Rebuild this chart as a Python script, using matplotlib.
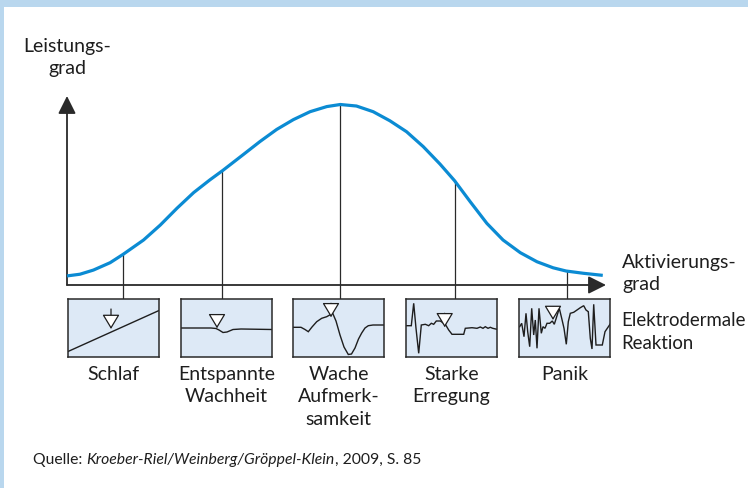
import numpy as np
import matplotlib
matplotlib.use("Agg")
import matplotlib.pyplot as plt
from matplotlib.patches import Rectangle

plt.rcParams["font.family"] = ["Lato", "DejaVu Sans"]

# Leistungskurve (Aktivierung 0..100, Leistung 0..100)
activation = [0, 2.4, 4.9, 8.0, 10.4, 14.2, 17.3, 20.4, 23.5, 26.5, 28.9, 32.7, 35.8, 38.9,
              42.0, 45.1, 48.2, 50.7, 53.7, 56.8, 59.9, 63.0, 66.1, 69.2, 71.9, 74.8, 77.9,
              80.9, 84.1, 87.2, 90.2, 92.6, 95.8, 99.4]
performance = [4.8, 5.7, 7.9, 11.8, 16.2, 23.8, 31.7, 40.6, 48.9, 55.6, 60.6, 69.0, 75.9, 82.3,
               87.5, 91.7, 94.4, 95.5, 94.7, 91.7, 86.9, 81.1, 73.2, 64.0, 55.2, 44.1, 32.6,
               23.8, 17.1, 12.3, 9.1, 7.4, 6.2, 5.1]

stages = ["Schlaf", "Entspannte\nWachheit", "Wache\nAufmerk-\nsamkeit", "Starke\nErregung", "Panik"]
stage_pos = [10.4, 28.8, 50.7, 71.9, 92.7]

# elektrodermale Reaktion je Stufe (x 0..91, y 0..58 von oben)
edr_x = [
    [0, 91],
    [0, 30, 35, 38, 42, 46, 52, 60, 91],
    [0, 8, 12, 15.3, 19, 23.7, 28.7, 33.7, 39.7, 43, 47, 51, 55.3, 58.5, 62, 65.5, 68.7, 72,
     75.3, 80, 91],
    [0.7, 5.3, 7.7, 10, 12.7, 15.3, 19.3, 22.7, 25.3, 27.7, 30.3, 34.3, 39.3, 42.7, 46, 57.7,
     59.3, 66, 71, 74.3, 77, 79.3, 82, 84.3, 86.7, 91],
    [0.7, 2.7, 5, 7, 8.7, 10.7, 12.7, 14.7, 16.3, 18, 20, 22.3, 24, 26, 28, 30.7, 33.3, 35.3,
     37.7, 40.3, 42.7, 45, 47.3, 49.3, 51.3, 54.7, 58, 61.3, 64.7, 67, 69.3, 71.3, 73, 74.7,
     77, 83.3, 86, 91],
]
edr_y = [
    [52.5, 11.5],
    [29, 29, 29.5, 31, 33.5, 33, 30.5, 30, 30.5],
    [28.3, 28.3, 30.5, 32.7, 28, 22.7, 19.3, 17.7, 14.3, 22, 36, 48, 55.5, 55, 49, 40, 34, 29,
     26.7, 26, 26],
    [26.7, 26.7, 4.3, 29.3, 54.3, 26, 25.3, 26.7, 24.3, 25.3, 22, 22, 25.3, 31, 35.3, 35.3,
     29.3, 28.7, 29.3, 28, 29.3, 27.7, 29.3, 28.3, 29.3, 30.3],
    [27.7, 24.3, 37.7, 14.3, 32.7, 47.7, 9.3, 36, 21, 49.3, 9.3, 34.3, 27.7, 29.3, 24.3, 24.3,
     22, 25.3, 17.7, 9.3, 19.3, 29.3, 45.3, 22.7, 14.3, 13.3, 11, 8.7, 6.7, 11, 12.7, 39.3,
     50, 5.3, 46, 46, 32.7, 25.3],
]
# Reizpfeil: x, Oberkante, Spitze
stim_x = [43, 36, 38, 38.7, 34]
stim_top = [10, 16.7, 4.3, 14.3, 7.7]
stim_tip = [30, 29.3, 18.3, 28.3, 21]

W, H = 748, 488
dark = "#2a2a2a"
blue = "#0b8bd3"
txt_col = "#1e1e1e"

fig = plt.figure(figsize=(W / 100, H / 100), dpi=100)
fig.patch.set_facecolor("white")

# hellblauer Rahmen oben und links
fig.patches.append(Rectangle((0, 1 - 7 / H), 1, 7 / H, transform=fig.transFigure,
                             facecolor="#b9d7ee", edgecolor="none"))
fig.patches.append(Rectangle((0, 0), 4 / W, 1, transform=fig.transFigure,
                             facecolor="#b9d7ee", edgecolor="none"))

# Hauptdiagramm
ax = fig.add_axes([67 / W, (H - 285) / H, 539 / W, 189 / H])
ax.set_xlim(0, 100)
ax.set_ylim(0, 100)
ax.axis("off")

for tip in [(0, 100), (100, 0)]:
    ax.annotate("", xy=tip, xytext=(0, 0),
                arrowprops=dict(arrowstyle="-|>,head_length=0.9,head_width=0.45", color=dark,
                                lw=1.3, shrinkA=0, shrinkB=0, mutation_scale=12))

ax.plot(activation, performance, color=blue, lw=2.3, solid_capstyle="butt", clip_on=False, zorder=3)

box_top = (H - 299) / H
y_box = ax.transData.inverted().transform(fig.transFigure.transform((0, box_top)))[1]
for xp in stage_pos:
    yc = np.interp(xp, activation, performance)
    ax.plot([xp, xp], [y_box, yc], color=dark, lw=0.9, clip_on=False, zorder=2)

# Kaestchen mit elektrodermaler Reaktion
box_left = [68, 181, 293, 406, 519]
for i, bl in enumerate(box_left):
    bx = fig.add_axes([bl / W, (H - 357) / H, 91 / W, 58 / H])
    bx.set_facecolor("#dde9f6")
    bx.set_xlim(0, 91)
    bx.set_ylim(58, 0)
    bx.set_xticks([])
    bx.set_yticks([])
    for s in bx.spines.values():
        s.set_color(dark)
        s.set_linewidth(1.1)
    bx.plot(edr_x[i], edr_y[i], color="#1e1e1e", lw=1.0, solid_joinstyle="miter")
    bx.annotate("", xy=(stim_x[i], stim_tip[i]), xytext=(stim_x[i], stim_top[i]),
                arrowprops=dict(arrowstyle="-|>,head_length=0.6,head_width=0.36",
                                fc="white", ec="#1e1e1e", lw=0.9, shrinkA=0, shrinkB=0,
                                mutation_scale=15))
    fig.text((bl + 45.5) / W, 1 - 366 / H, stages[i], ha="center", va="top",
             fontsize=14, color=txt_col, linespacing=1.38)

# Achsenbeschriftungen
fig.text(67 / W, 1 - 38 / H, "Leistungs-\ngrad", ha="center", va="top",
         fontsize=14, color=txt_col, linespacing=1.38)
fig.text(622 / W, 1 - 254 / H, "Aktivierungs-\ngrad", ha="left", va="top",
         fontsize=14, color=txt_col, linespacing=1.38)
fig.text(621 / W, 1 - 312 / H, "Elektrodermale\nReaktion", ha="left", va="top",
         fontsize=13.4, color=txt_col, linespacing=1.44)

# Quelle
renderer = fig.canvas.get_renderer()
x0 = 33 / W
yb = 1 - 464 / H
parts = [("Quelle: ", "normal"), ("Kroeber-Riel/Weinberg/Gröppel-Klein", "italic"),
         (", 2009, S. 85", "normal")]
for txt, st in parts:
    t = fig.text(x0, yb, txt, ha="left", va="baseline", fontsize=11.3, style=st, color=txt_col)
    bb = t.get_window_extent(renderer)
    x0 = fig.transFigure.inverted().transform((bb.x1, 0))[0]

fig.savefig("out.png", dpi=100)
